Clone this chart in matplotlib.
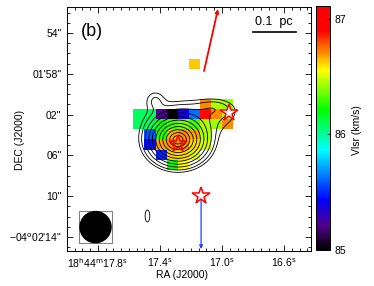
import numpy as np
import matplotlib
matplotlib.use("Agg")
import matplotlib.pyplot as plt
from matplotlib.colors import LinearSegmentedColormap
from matplotlib.patches import Ellipse, Rectangle

plt.rcParams['font.family'] = ['Liberation Sans', 'DejaVu Sans']

# =========================
# Velocity map (Vlsr, km/s)
# =========================
nan = np.nan
vlsr = np.array([
    [nan, nan, nan, nan, nan, 86.63, nan, nan, nan],
    [nan, nan, nan, nan, nan, nan, nan, nan, nan],
    [nan, nan, nan, nan, nan, nan, nan, nan, nan],
    [nan, nan, nan, nan, nan, nan, nan, nan, nan],
    [nan, nan, nan, nan, nan, nan, 86.71, 86.45, 86.42],
    [86.08, 86.08, 85.20, 85.00, 85.38, 85.62, 86.88, 86.71, 86.45],
    [86.08, 86.08, 86.22, 86.30, 86.38, 86.30, 86.45, 86.42, 86.71],
    [nan, 85.58, 86.25, 86.66, 86.70, 86.68, 86.45, nan, nan],
    [nan, 85.46, 86.68, 86.70, 86.70, 86.60, 86.50, nan, nan],
    [nan, nan, 85.50, 86.62, 86.60, 86.52, nan, nan, nan],
    [nan, nan, nan, 86.22, 86.56, nan, nan, nan, nan],
])
# map grid: first cell corner and cell size (RA in s, DEC offset in arcsec)
ra0, dra = 17.572, -0.0716
dec0, ddec = 56.52, 0.99

# intensity components for the contours (gaussians)
comp_ra = [17.284, 17.181, 17.045, 17.432, 17.481]
comp_dec = [64.49, 62.23, 61.35, 60.57, 71.94]
comp_sra = [0.0968, 0.194, 0.0774, 0.045, 0.018]
comp_sdec = [1.225, 1.176, 0.588, 0.69, 0.686]
comp_amp = [1.0, 0.07, 0.05, 0.05, 0.05]
levels = [0.035, 0.056, 0.096, 0.154, 0.236, 0.341, 0.467, 0.607, 0.745, 0.867, 0.956]

# sources and outflow
star_ra = [17.284, 16.955, 17.135]
star_dec = [64.88, 61.84, 69.98]
star_face = ['none', 'white', 'white']
red_lobe = [(17.116, 57.73), (17.026, 51.65)]
blue_lobe = [(17.135, 70.18), (17.135, 75.18)]

# axes ticks
xticks = [17.8, 17.4, 17.0, 16.6]
xlabels = [r'18$^{\rm h}$44$^{\rm m}$17.8$^{\rm s}$', r'17.4$^{\rm s}$',
           r'17.0$^{\rm s}$', r'16.6$^{\rm s}$']
yticks = [54, 58, 62, 66, 70, 74]
ylabels = ['54"', '01\'58"', '02"', '06"', '10"', '\u221204$^{\\rm o}$02\'14"']
vmin, vmax = 85.0, 87.11

# IDL-like rainbow
cmap = LinearSegmentedColormap.from_list("idlrainbow", [
    (0.0, '#000000'), (0.10, '#50008f'), (0.205, '#0000ff'), (0.41, '#00ffff'),
    (0.574, '#00ff00'), (0.738, '#ffff00'), (0.81, '#ff8c00'), (0.90, '#ff0000'),
    (1.0, '#ff0000')])

fig = plt.figure(figsize=(3.74, 2.86), dpi=100)
ax = fig.add_axes([0.1791, 0.1224, 0.6524, 0.8531])
cax = fig.add_axes([0.8449, 0.1259, 0.0374, 0.853])

ny, nx = vlsr.shape
xe = ra0 + dra * np.arange(nx + 1)
ye = dec0 + ddec * np.arange(ny + 1)
pm = ax.pcolormesh(xe, ye, np.ma.masked_invalid(vlsr), cmap=cmap,
                   vmin=vmin, vmax=vmax, shading='flat')

# contours
gx = np.linspace(16.85, 17.65, 400)
gy = np.linspace(56.0, 76.0, 400)
GX, GY = np.meshgrid(gx, gy)
field = np.zeros_like(GX)
for a, x0, y0, sx, sy in zip(comp_amp, comp_ra, comp_dec, comp_sra, comp_sdec):
    field += a * np.exp(-0.5 * (((GX - x0) / sx) ** 2 + ((GY - y0) / sy) ** 2))
ax.contour(GX, GY, field, levels=levels, colors='black', linewidths=0.6)

# outflow lobes
ax.annotate('', xy=red_lobe[1], xytext=red_lobe[0],
            arrowprops=dict(arrowstyle='-|>', color='red', lw=1.3,
                            mutation_scale=5, shrinkA=0, shrinkB=0))
ax.annotate('', xy=blue_lobe[1], xytext=blue_lobe[0],
            arrowprops=dict(arrowstyle='-|>', color='#2040ff', lw=0.9,
                            mutation_scale=5, shrinkA=0, shrinkB=0))

for x, y, fc in zip(star_ra, star_dec, star_face):
    ax.plot(x, y, marker='*', ms=13, mfc=fc, mec='red', mew=1.1, zorder=5)

# beam
ax.add_patch(Rectangle((17.9226, 71.45), 17.7077 - 17.9226, 74.59 - 71.45,
                       fill=False, ec='gray', lw=0.8))
ax.add_patch(Ellipse((17.816, 73.03), 0.2, 3.05, color='black'))

# scale bar
ax.plot([16.80, 16.5225], [53.90, 53.90], color='black', lw=1.2)
ax.text(16.665, 52.9, '0.1  pc', ha='center', va='center', fontsize=9)
ax.text(0.055, 0.88, '(b)', transform=ax.transAxes, fontsize=13)

ax.set_xlim(18.0, 16.426)
ax.set_ylim(75.373, 51.451)
ax.set_xticks(xticks)
ax.set_xticklabels(xlabels, fontsize=7.5)
ax.set_yticks(yticks)
ax.set_yticklabels(ylabels, fontsize=7.5)
ax.set_xticks(np.arange(16.45, 18.0, 0.05), minor=True)
ax.set_yticks(np.arange(52, 76, 1), minor=True)
ax.tick_params(which='both', direction='in', top=True, right=True, width=0.6)
ax.tick_params(which='major', length=4, pad=4)
ax.tick_params(which='minor', length=2.2)
for s in ax.spines.values():
    s.set_linewidth(0.7)

fig.text(182 / 374, 1 - 275 / 286, 'RA (J2000)', ha='center', va='center', fontsize=7.5)
fig.text(20 / 374, 1 - 140 / 286, 'DEC (J2000)', ha='center', va='center',
         rotation=90, fontsize=7.5)

cb = fig.colorbar(pm, cax=cax)
cb.set_ticks([85, 86, 87])
cb.ax.tick_params(labelsize=7.5, direction='in', length=2, width=0.6)
cb.outline.set_linewidth(0.7)
fig.text(357 / 374, 1 - 130 / 286, 'Vlsr (km/s)', ha='center', va='center',
         rotation=90, fontsize=7.5)

fig.savefig("out.png", dpi=100)
